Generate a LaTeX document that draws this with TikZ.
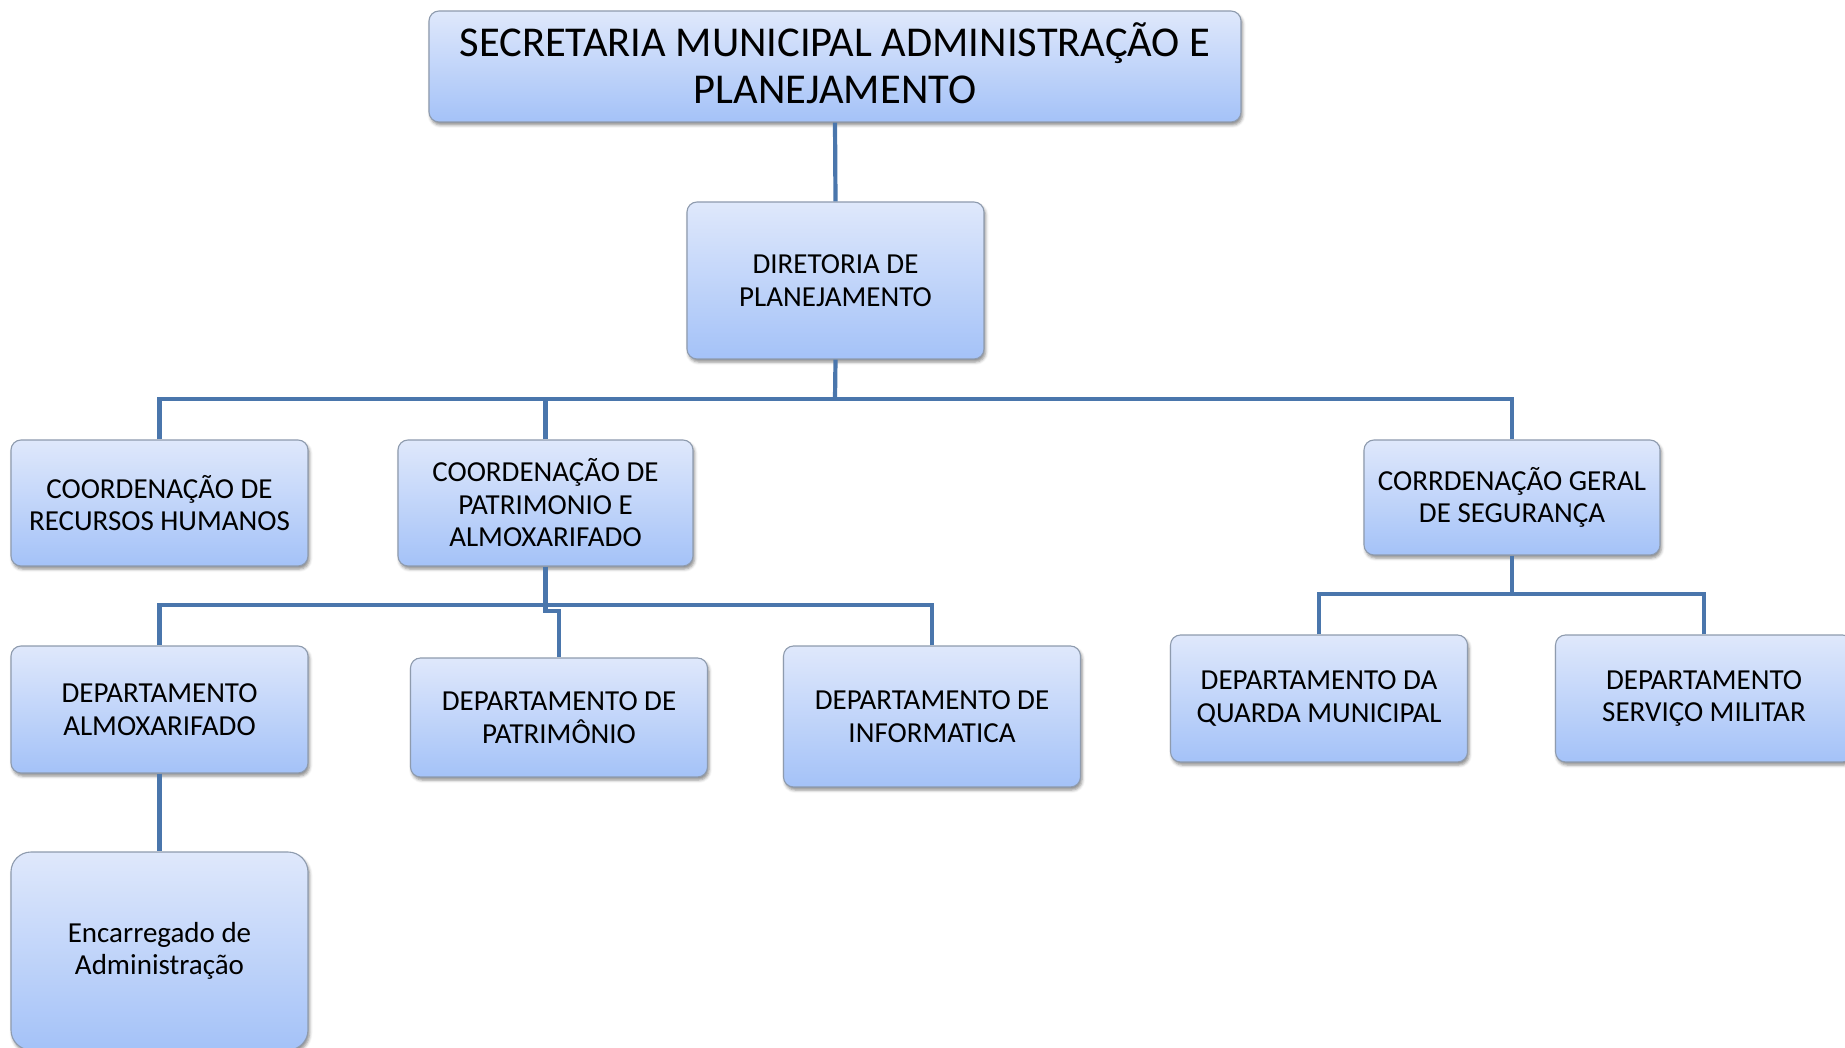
\documentclass[tikz,border=0pt]{standalone}
\usepackage{fontspec}
\setmainfont{Carlito}
\usetikzlibrary{shadows.blur}
\definecolor{boxtop}{HTML}{DFE8FB}
\definecolor{boxbot}{HTML}{A4C2F8}
\definecolor{boxline}{HTML}{8E9BAE}
\definecolor{conncol}{HTML}{4A76AC}
\tikzset{
  orgbox/.style={draw=boxline, line width=1.1pt, rounded corners=10pt,
    top color=boxtop, bottom color=boxbot, align=center, inner sep=0pt,
    minimum width=297pt, minimum height=127pt,
    font=\fontsize{29}{32.5}\selectfont,
    blur shadow={shadow xshift=1.5pt, shadow yshift=-3pt, shadow blur radius=3pt, shadow opacity=45}},
  conn/.style={draw=conncol, line width=4.2pt}
}
\begin{document}
\begin{tikzpicture}[x=1pt,y=-1pt]
\useasboundingbox (0,0) rectangle (1845,1048);
\clip (0,0) rectangle (1845,1048);
% nodes
\node[orgbox, minimum width=812pt, minimum height=111pt] (sec) at (835,66.5) {};
\node[font=\fontsize{42.5}{47}\selectfont, align=center, inner sep=0pt] (sectext) at (835,63) {SECRETARIA MUNICIPAL ADMINISTRAÇÃO E\\PLANEJAMENTO};
\node[orgbox, minimum width=297pt, minimum height=157pt] (dir) at (835.5,280.5) {DIRETORIA DE\\PLANEJAMENTO};
\node[orgbox, minimum height=126pt] (rh) at (159.5,503) {COORDENAÇÃO DE\\RECURSOS HUMANOS};
\node[orgbox, minimum width=295pt, minimum height=126pt] (cpa) at (545.5,503) {COORDENAÇÃO DE\\PATRIMONIO E\\ALMOXARIFADO};
\node[orgbox, minimum width=296pt, minimum height=115pt] (seg) at (1512,497.5) {CORRDENAÇÃO GERAL\\DE SEGURANÇA};
\node[orgbox, minimum height=127pt] (dalm) at (159.5,709.5) {DEPARTAMENTO\\ALMOXARIFADO};
\node[orgbox, minimum height=119pt] (dpat) at (559,717.5) {DEPARTAMENTO DE\\PATRIMÔNIO};
\node[orgbox, minimum height=141pt] (dinf) at (932,716.5) {DEPARTAMENTO DE\\INFORMATICA};
\node[orgbox, minimum height=127pt] (gua) at (1319,698.5) {DEPARTAMENTO DA\\QUARDA MUNICIPAL};
\node[orgbox, minimum height=127pt] (mil) at (1704,698.5) {DEPARTAMENTO\\SERVIÇO MILITAR};
\node[orgbox, rounded corners=20pt, minimum height=198pt] (enc) at (159.5,951) {Encarregado de\\Administração};
% bus coordinates
\coordinate (bus1) at (835,399);
\coordinate (bus2) at (545.5,605);
\coordinate (bus3) at (1512,594);
% connectors
\draw[conn] (sec.south) -- (dir.north);
\draw[conn] (dir.south) -- (bus1);
\draw[conn] (rh.north) |- (bus1);
\draw[conn] (seg.north) |- (bus1);
\draw[conn] (cpa.north) -- (cpa.north |- bus1);
\draw[conn] (cpa.south) -- (bus2);
\draw[conn] (dalm.north) |- (bus2);
\draw[conn] (dinf.north) |- (bus2);
\draw[conn] (bus2) -- ++(0,6) -| (dpat.north);
\draw[conn] (seg.south) -- (bus3);
\draw[conn] (gua.north) |- (bus3);
\draw[conn] (mil.north) |- (bus3);
\draw[conn] (dalm.south) -- (enc.north);
\end{tikzpicture}
\end{document}
